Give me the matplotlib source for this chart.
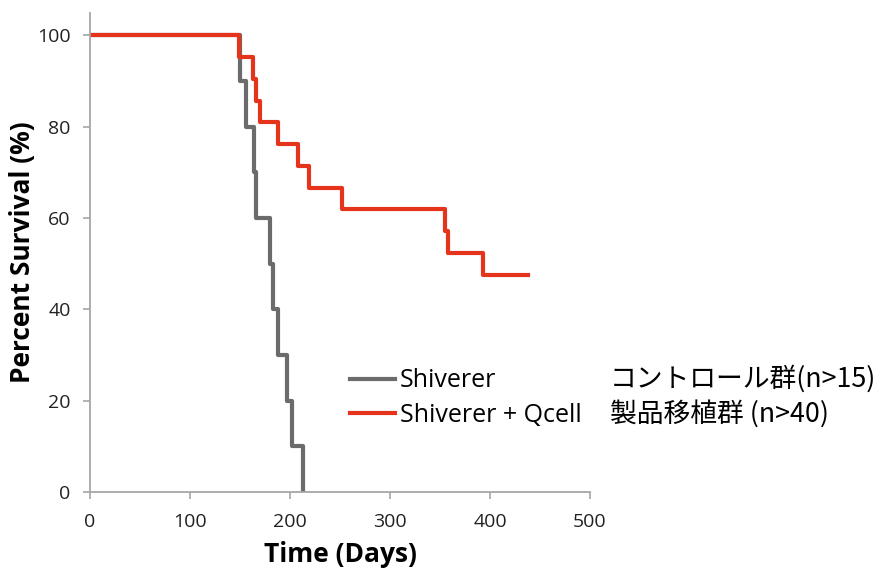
import matplotlib.pyplot as plt

# Kaplan-Meier style survival data
# Shiverer (control, steps of 10%)
ctrl_days = [0, 150, 156, 164, 166, 180, 183, 188, 197, 202, 213]
ctrl_surv = [100, 90, 80, 70, 60, 50, 40, 30, 20, 10, 0]

# Shiverer + Qcell (steps of ~1/21)
qcell_days = [0, 149, 163, 166, 170, 188, 208, 219, 252, 355, 358, 393, 438]
qcell_surv = [100, 95.2, 90.5, 85.7, 81.0, 76.2, 71.4, 66.7, 61.9, 57.1, 52.4, 47.6, 47.6]

x_ticks = [0, 100, 200, 300, 400, 500]
y_ticks = [0, 20, 40, 60, 80, 100]

labels = ['Shiverer', 'Shiverer + Qcell']
jp_labels = ['コントロール群(n>15)', '製品移植群 (n>40)']

plt.rcParams['font.family'] = ['Open Sans', 'DejaVu Sans']

fig = plt.figure(figsize=(8.78, 5.70), dpi=100)
ax = fig.add_axes([0.1025, 0.1368, 0.5695, 0.841])

ax.step(ctrl_days, ctrl_surv, where='post', color='#6b6b6b', lw=3, label=labels[0])
ax.step(qcell_days, qcell_surv, where='post', color='#e5341b', lw=3, label=labels[1])

ax.set_xlim(0, 500)
ax.set_ylim(0, 105)
ax.set_xticks(x_ticks)
ax.set_yticks(y_ticks)

for side in ['top', 'right']:
    ax.spines[side].set_visible(False)
for side in ['left', 'bottom']:
    ax.spines[side].set_color('#a6a6a6')
    ax.spines[side].set_linewidth(1.3)
ax.tick_params(colors='#a6a6a6', labelcolor='#222222', length=5, width=1.2, labelsize=14)
ax.tick_params(axis='y', pad=9)
ax.tick_params(axis='x', pad=10)

ax.set_xlabel('Time (Days)', fontsize=19, fontweight='bold', labelpad=7)
ax.set_ylabel('Percent Survival (%)', fontsize=19, fontweight='bold', labelpad=1)

ax.legend(loc='center left', bbox_to_anchor=(0.52, 0.196), frameon=False,
          borderpad=0, borderaxespad=0,
          fontsize=18, handlelength=1.8, handletextpad=0.2, labelspacing=0.38)

fig.text(0.695, 0.336, jp_labels[0], fontsize=19.3, va='center',
         family=['Noto Sans CJK JP', 'DejaVu Sans'])
fig.text(0.695, 0.274, jp_labels[1], fontsize=19.3, va='center',
         family=['Noto Sans CJK JP', 'DejaVu Sans'])

plt.savefig('out.png', dpi=100)
